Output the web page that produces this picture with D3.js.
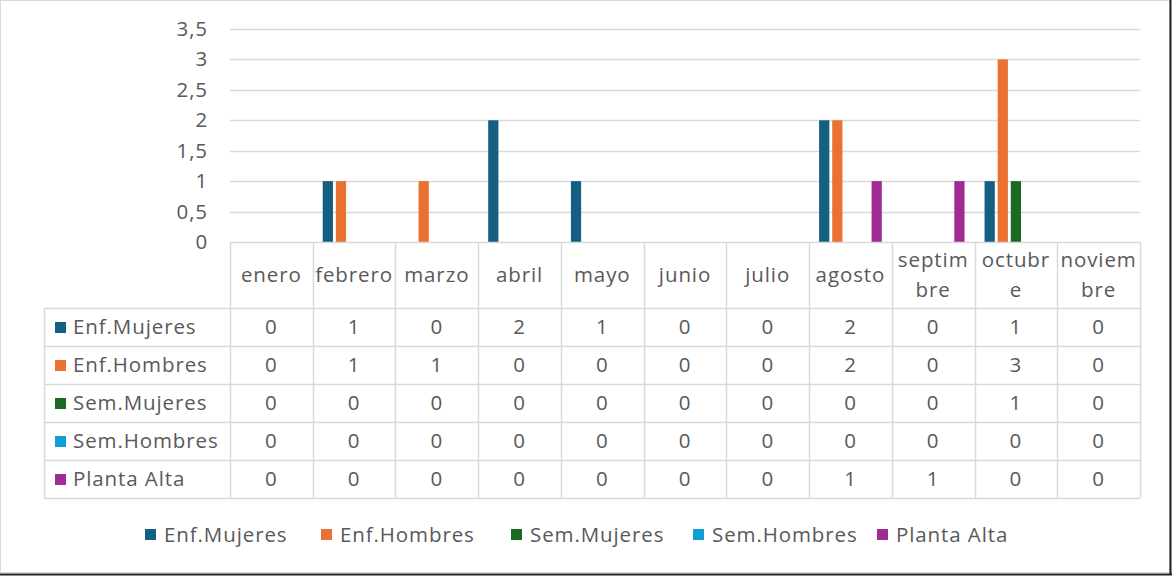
<!DOCTYPE html>
<html><head><meta charset="utf-8">
<script src="https://cdn.jsdelivr.net/npm/d3@7"></script>
<style>body{margin:0;background:#fff}svg{display:block}text{font-family:"Open Sans",sans-serif;fill:#595959;letter-spacing:0.9px}</style>
</head><body><svg id="c" width="1173" height="577"></svg>
<script>
const months = ["enero","febrero","marzo","abril","mayo","junio","julio","agosto","septiembre","octubre","noviembre"];
const monthLines = [["enero"],["febrero"],["marzo"],["abril"],["mayo"],["junio"],["julio"],["agosto"],["septim","bre"],["octubr","e"],["noviem","bre"]];
const seriesNames = ["Enf.Mujeres","Enf.Hombres","Sem.Mujeres","Sem.Hombres","Planta Alta"];
const colors = ["#156082","#E97132","#196B24","#0F9ED5","#A02B93"];
const enfMujeres  = [0,1,0,2,1,0,0,2,0,1,0];
const enfHombres  = [0,1,1,0,0,0,0,2,0,3,0];
const semMujeres  = [0,0,0,0,0,0,0,0,0,1,0];
const semHombres  = [0,0,0,0,0,0,0,0,0,0,0];
const plantaAlta  = [0,0,0,0,0,0,0,1,1,0,0];
const yTicks = [0,0.5,1,1.5,2,2.5,3,3.5];
const values = [enfMujeres,enfHombres,semMujeres,semHombres,plantaAlta];

const FS = 20.5;
const svg = d3.select("#c");
// frame
svg.append("rect").attr("x",0.5).attr("y",0.5).attr("width",1169).attr("height",572).attr("fill","#fff").attr("stroke","#d9d9d9");
svg.append("line").attr("x1",1170.5).attr("x2",1170.5).attr("y1",0).attr("y2",575).attr("stroke","#222").attr("stroke-width",2);
svg.append("line").attr("x1",0).attr("x2",1172).attr("y1",574.5).attr("y2",574.5).attr("stroke","#222").attr("stroke-width",2);

const L = 230, R = 1140, T = 29, B = 242;
const x = d3.scaleBand().domain(months).range([L,R]).padding(0);
const inner = d3.scaleBand().domain(seriesNames).range([10, x.bandwidth()-10]).paddingInner(0.22).paddingOuter(0);
const y = d3.scaleLinear().domain([0,3.5]).range([B,T]);
const fmt = d => String(d).replace(".",",");

// gridlines
svg.append("g").selectAll("line").data(yTicks.filter(d=>d>0)).join("line")
  .attr("x1",L).attr("x2",R).attr("y1",d=>Math.round(y(d))+0.5).attr("y2",d=>Math.round(y(d))+0.5)
  .attr("stroke","#d9d9d9").attr("stroke-width",1.5);
// y labels
svg.append("g").selectAll("text").data(yTicks).join("text")
  .attr("x",208).attr("y",d=>y(d)+7).attr("text-anchor","end").attr("font-size",FS).text(fmt);

// bars
seriesNames.forEach((s,si)=>{
  svg.append("g").selectAll("rect").data(values[si].map((v,i)=>({v,m:months[i]}))).join("rect")
    .attr("x",d=>x(d.m)+inner(s)).attr("width",inner.bandwidth())
    .attr("y",d=>y(d.v)).attr("height",d=>y(0)-y(d.v)).attr("fill",colors[si]);
});

// table
const tg = svg.append("g");
const rowTop = 308, rowH = 38, tableLeft = 44;
const lineC = "#d9d9d9";
tg.append("line").attr("x1",L).attr("x2",R).attr("y1",B+0.5).attr("y2",B+0.5).attr("stroke",lineC).attr("stroke-width",1.5);
for(let r=0;r<=5;r++){
  tg.append("line").attr("x1",tableLeft).attr("x2",R).attr("y1",rowTop+r*rowH+0.5).attr("y2",rowTop+r*rowH+0.5).attr("stroke",lineC).attr("stroke-width",1.5);
}
tg.append("line").attr("x1",tableLeft+0.5).attr("x2",tableLeft+0.5).attr("y1",rowTop).attr("y2",rowTop+5*rowH).attr("stroke",lineC).attr("stroke-width",1.5);
[...months.map(m=>x(m)), R].forEach(xx=>{
  tg.append("line").attr("x1",Math.round(xx)+0.5).attr("x2",Math.round(xx)+0.5).attr("y1",B).attr("y2",rowTop+5*rowH).attr("stroke",lineC).attr("stroke-width",1.5);
});
// header text
months.forEach((m,i)=>{
  const lines = monthLines[i];
  const cx = x(m)+x.bandwidth()/2;
  lines.forEach((t,j)=>{
    const yy = lines.length===1 ? 282 : 267 + j*30;
    tg.append("text").attr("x",cx).attr("y",yy).attr("text-anchor","middle").attr("font-size",FS).text(t);
  });
});
// rows
seriesNames.forEach((s,si)=>{
  const yy = rowTop + si*rowH;
  tg.append("rect").attr("x",55).attr("y",yy+14).attr("width",11).attr("height",11).attr("fill",colors[si]);
  tg.append("text").attr("x",73).attr("y",yy+26).attr("font-size",FS).text(s);
  values[si].forEach((v,i)=>{
    tg.append("text").attr("x",x(months[i])+x.bandwidth()/2).attr("y",yy+26).attr("text-anchor","middle").attr("font-size",FS).text(v);
  });
});

// legend
const legX = [145,321,511,693,877];
const lg = svg.append("g");
seriesNames.forEach((s,si)=>{
  lg.append("rect").attr("x",legX[si]).attr("y",529).attr("width",11).attr("height",11).attr("fill",colors[si]);
  lg.append("text").attr("x",legX[si]+19).attr("y",542).attr("font-size",FS).text(s);
});
</script></body></html>
